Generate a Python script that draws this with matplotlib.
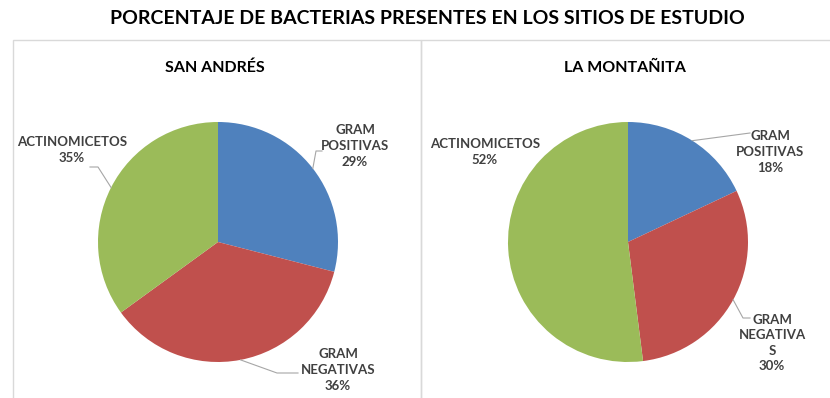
import matplotlib
matplotlib.use("Agg")
import matplotlib.pyplot as plt
from matplotlib.patches import Rectangle
import numpy as np

plt.rcParams["font.family"] = ["Lato", "DejaVu Sans"]

W, H = 830, 398

TITLE = "PORCENTAJE DE BACTERIAS PRESENTES EN LOS SITIOS DE ESTUDIO"
SITES = ["SAN ANDRÉS", "LA MONTAÑITA"]
CATEGORIES = ["GRAM\nPOSITIVAS", "GRAM\nNEGATIVAS", "ACTINOMICETOS"]
CATEGORIES_RIGHT = ["GRAM\nPOSITIVAS", "GRAM\nNEGATIVA\nS", "ACTINOMICETOS"]
SAN_ANDRES = [29, 36, 35]
LA_MONTANITA = [18, 30, 52]
COLORS = ["#4F81BD", "#C0504D", "#9BBB59"]

# pixel layout (image coords, y down)
CENTERS = [(218, 242), (628, 242)]
RADIUS = 120
LABEL_POS = [
    [(355, 146), (338, 370), (72, 150)],
    [(770, 152), (772, 343), (485, 152)],
]
# bend / end points of leader lines, None = no leader
LEADERS = [
    [[(316, 151), (322, 151)], [(277, 373), (298, 373)], [(98, 167), (90, 167)]],
    [[(750, 133)], [(743, 318), (750, 318)], None],
]

fig = plt.figure(figsize=(W / 100, H / 100), dpi=100)
ax = fig.add_axes([0, 0, 1, 1])


def py(y):
    return H - y


for i, (site, vals) in enumerate(zip(SITES, [SAN_ANDRES, LA_MONTANITA])):
    cx, cy = CENTERS[i]
    ax.pie(vals, colors=COLORS, startangle=90, counterclock=False,
           radius=RADIUS, center=(cx, py(cy)),
           wedgeprops=dict(linewidth=0))
    labels = CATEGORIES if i == 0 else CATEGORIES_RIGHT
    total = sum(vals)
    cum = 0
    for j, v in enumerate(vals):
        mid = (cum + v / 2) / total * 360
        cum += v
        ex = cx + RADIUS * np.sin(np.radians(mid))
        ey = cy - RADIUS * np.cos(np.radians(mid))
        lx, ly = LABEL_POS[i][j]
        ax.text(lx, py(ly), f"{labels[j]}\n{v}%", ha="center", va="center",
                fontsize=9.5, fontweight="bold", color="#404040",
                linespacing=1.35)
        if LEADERS[i][j]:
            pts = [(ex, ey)] + LEADERS[i][j]
            ax.plot([p[0] for p in pts], [py(p[1]) for p in pts],
                    color="#a6a6a6", lw=0.8)
    ax.text(cx - 3, py(68), site, ha="center", va="center",
            fontsize=11.5, fontweight="bold", color="black")

# panel frames
ax.add_patch(Rectangle((13, -10), 408, py(40) + 10, fill=False,
                       edgecolor="#d9d9d9", lw=1))
ax.add_patch(Rectangle((421, -10), 420, py(40) + 10, fill=False,
                       edgecolor="#d9d9d9", lw=1))

ax.text(W / 2 + 12, py(18), TITLE, ha="center", va="center",
        fontsize=14, fontweight="bold", color="black")

ax.set_xlim(0, W)
ax.set_ylim(0, H)
ax.set_aspect("equal")
ax.axis("off")

fig.savefig("out.png", dpi=100)
